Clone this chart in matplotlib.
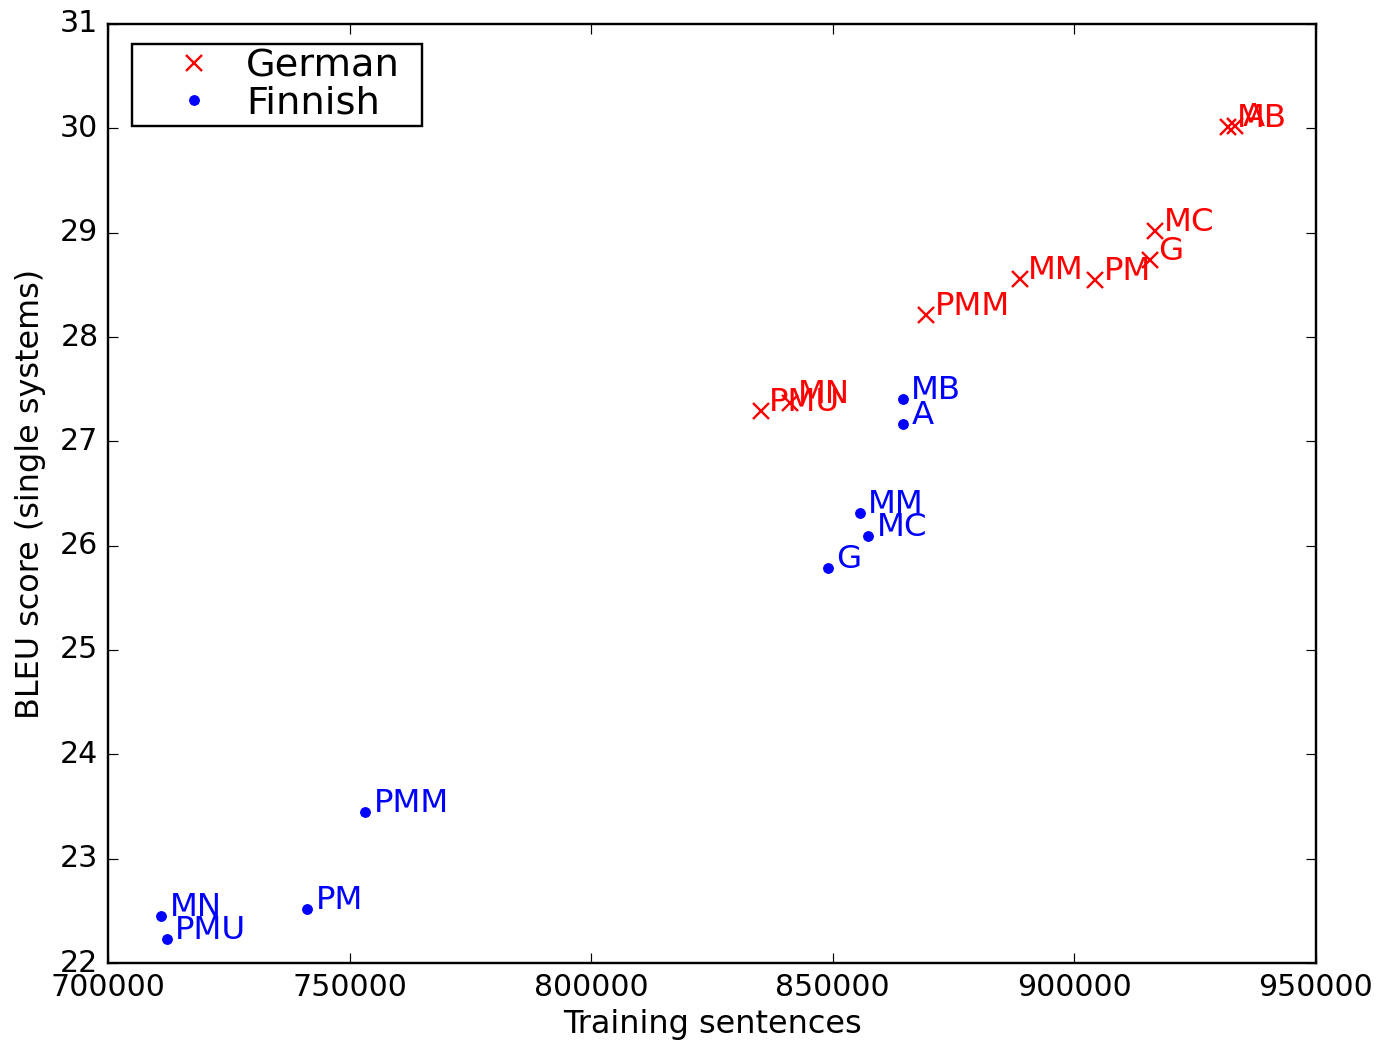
import matplotlib
matplotlib.use('Agg')
import matplotlib.pyplot as plt

# German systems
german_labels = ['MB', 'A', 'MC', 'G', 'PM', 'MM', 'PMM', 'PMU', 'MN']
german_sents = [931800, 933200, 916700, 915600, 904300, 888700, 869300, 835100, 841100]
german_bleu = [30.01, 30.02, 29.02, 28.74, 28.55, 28.56, 28.21, 27.29, 27.37]

# Finnish systems
finnish_labels = ['MB', 'A', 'MM', 'MC', 'G', 'PMM', 'PM', 'MN', 'PMU']
finnish_sents = [864500, 864500, 855600, 857300, 849000, 753200, 741200, 711000, 712200]
finnish_bleu = [27.41, 27.17, 26.31, 26.09, 25.79, 23.45, 22.52, 22.45, 22.23]


def main():
    plt.style.use('classic')
    dpi = 172.6
    fig = plt.figure(figsize=(1381 / dpi, 1042 / dpi), dpi=dpi, facecolor='white')
    ax = fig.add_axes([108 / 1381, 1 - 963 / 1042, (1316 - 108) / 1381, (963 - 24) / 1042])

    ax.plot(german_sents, german_bleu, 'x', color='red', mec='red', ms=7, mew=1, label='German')
    ax.plot(finnish_sents, finnish_bleu, '.', color='blue', mec='blue', ms=8, label='Finnish')

    for lab, x, y in zip(german_labels, german_sents, german_bleu):
        ax.annotate(lab, (x, y), xytext=(3.5, 0), textcoords='offset points',
                    color='red', fontsize=13.5)
    for lab, x, y in zip(finnish_labels, finnish_sents, finnish_bleu):
        ax.annotate(lab, (x, y), xytext=(3.5, 0), textcoords='offset points',
                    color='blue', fontsize=13.5)

    ax.set_xlim(700000, 950000)
    ax.set_ylim(22, 31)
    ax.set_xticks([700000, 750000, 800000, 850000, 900000, 950000])
    ax.set_yticks(range(22, 32))
    ax.xaxis.set_major_formatter(matplotlib.ticker.FormatStrFormatter('%d'))
    ax.tick_params(labelsize=12.5)
    ax.set_xlabel('Training sentences', fontsize=13.3, labelpad=3)
    ax.set_ylabel('BLEU score (single systems)', fontsize=13.3, labelpad=6)
    ax.legend(loc='upper left', bbox_to_anchor=(0.0199, 0.8787, 0.24, 0.1),
              mode='expand', borderaxespad=0,
              numpoints=1, fontsize=16, handlelength=3.0, handletextpad=-0.15,
              borderpad=0.12, labelspacing=0.03)

    fig.savefig('out.png', dpi=dpi, facecolor='white')


if __name__ == "__main__":
    main()
